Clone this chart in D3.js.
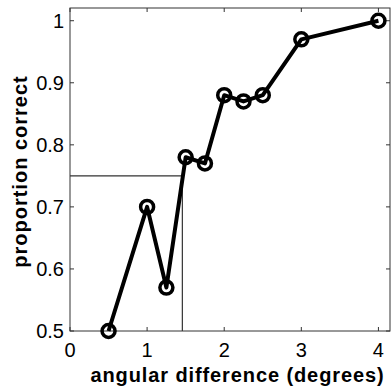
<!DOCTYPE html>
<html>
<head>
<meta charset="utf-8">
<script src="https://cdnjs.cloudflare.com/ajax/libs/d3/7.8.5/d3.min.js"></script>
<style>
  body { margin: 0; background: #fff; }
  svg text { font-family: "Liberation Sans", Arial, sans-serif; }
</style>
</head>
<body>
<div id="chart"></div>
<script>
var angles = [0.5, 1, 1.25, 1.5, 1.75, 2, 2.25, 2.5, 3, 4];
var correct = [0.5, 0.7, 0.57, 0.78, 0.77, 0.88, 0.87, 0.88, 0.97, 1.0];
var xTicks = [0, 1, 2, 3, 4];
var yTicks = [0.5, 0.6, 0.7, 0.8, 0.9, 1];
var threshold = {x: 1.457, y: 0.75};

var width = 391, height = 392;
var margin = {left: 70, top: 8, right: 1, bottom: 61};

var svg = d3.select("#chart")
	.append("svg")
	.attr("width", width)
	.attr("height", height);

var x = d3.scaleLinear()
	.domain([0, 4.15])
	.range([margin.left, width - margin.right]);

var y = d3.scaleLinear()
	.domain([0.5, 1.0205])
	.range([height - margin.bottom, margin.top]);

// box
svg.append("rect")
	.attr("x", x(0))
	.attr("y", y(1.0205))
	.attr("width", x(4.15) - x(0))
	.attr("height", y(0.5) - y(1.0205))
	.attr("fill", "none")
	.attr("stroke", "#333")
	.attr("stroke-width", 1);

// inside ticks, all four sides
var tl = 4;
xTicks.forEach(function(t){
	svg.append("line").attr("x1", x(t)).attr("x2", x(t))
		.attr("y1", y(0.5)).attr("y2", y(0.5) - tl)
		.attr("stroke", "#333");
	svg.append("line").attr("x1", x(t)).attr("x2", x(t))
		.attr("y1", y(1.0205)).attr("y2", y(1.0205) + tl)
		.attr("stroke", "#333");
	svg.append("text")
		.attr("x", x(t))
		.attr("y", y(0.5) + 26)
		.attr("text-anchor", "middle")
		.attr("font-size", 20)
		.attr("fill", "#000")
		.text(t);
});
yTicks.forEach(function(t){
	svg.append("line").attr("x1", x(0)).attr("x2", x(0) + tl)
		.attr("y1", y(t)).attr("y2", y(t))
		.attr("stroke", "#333");
	svg.append("line").attr("x1", x(4.15)).attr("x2", x(4.15) - tl)
		.attr("y1", y(t)).attr("y2", y(t))
		.attr("stroke", "#333");
	svg.append("text")
		.attr("x", x(0) - 6)
		.attr("y", y(t) + 7)
		.attr("text-anchor", "end")
		.attr("font-size", 20)
		.attr("fill", "#000")
		.text(t === 1 ? "1" : d3.format(".1f")(t));
});

// threshold guide lines
svg.append("path")
	.attr("d", d3.line()([
		[x(0), y(threshold.y)],
		[x(threshold.x), y(threshold.y)],
		[x(threshold.x), y(0.5)]
	]))
	.attr("fill", "none")
	.attr("stroke", "#333")
	.attr("stroke-width", 1.2);

var pts = angles.map(function(a, i){ return [a, correct[i]]; });

svg.append("path")
	.datum(pts)
	.attr("d", d3.line().x(function(d){ return x(d[0]); }).y(function(d){ return y(d[1]); }))
	.attr("fill", "none")
	.attr("stroke", "#000")
	.attr("stroke-width", 4)
	.attr("stroke-linejoin", "round");

svg.selectAll(".pt")
	.data(pts).enter()
	.append("circle")
	.attr("class", "pt")
	.attr("cx", function(d){ return x(d[0]); })
	.attr("cy", function(d){ return y(d[1]); })
	.attr("r", 6.5)
	.attr("fill", "none")
	.attr("stroke", "#000")
	.attr("stroke-width", 3.5);

// axis labels
svg.append("text")
	.attr("x", 237.5)
	.attr("y", 382)
	.attr("text-anchor", "middle")
	.attr("font-size", 20)
	.attr("font-weight", "bold")
	.attr("letter-spacing", 0.9)
	.text("angular difference (degrees)");

svg.append("text")
	.attr("transform", "translate(27,171.5) rotate(-90)")
	.attr("text-anchor", "middle")
	.attr("font-size", 20)
	.attr("font-weight", "bold")
	.attr("letter-spacing", 1.0)
	.text("proportion correct");
</script>
</body>
</html>
